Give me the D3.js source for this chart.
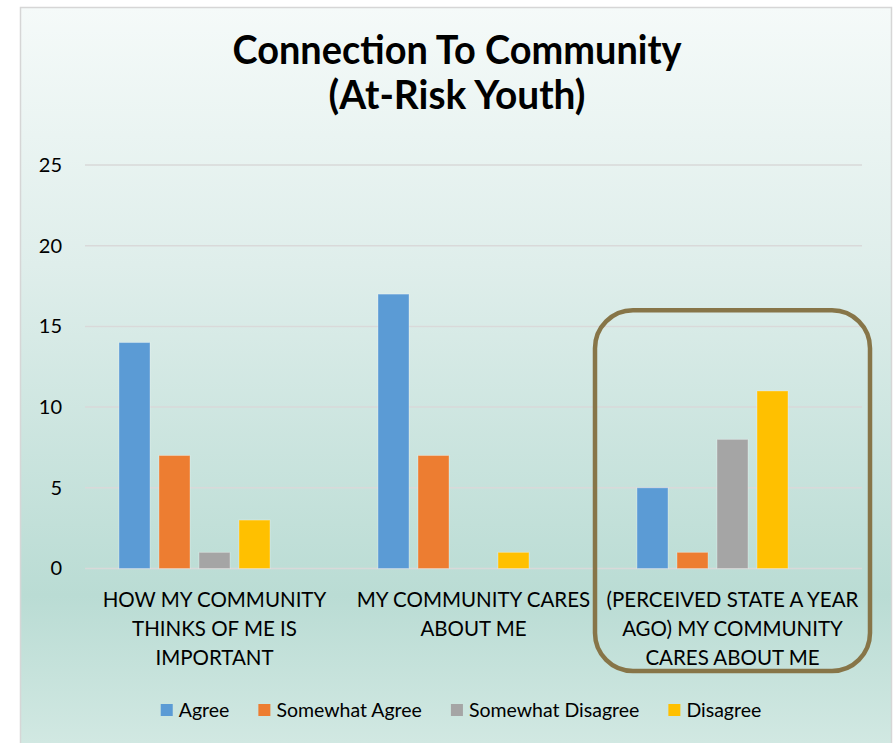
<!DOCTYPE html>
<html>
<head>
<meta charset="utf-8">
<script src="https://cdn.jsdelivr.net/npm/d3@7/dist/d3.min.js"></script>
<style>
  html, body { margin: 0; padding: 0; background: #ffffff; }
  svg { display: block; }
  text { font-family: Lato, "Open Sans", "Liberation Sans", sans-serif; }
</style>
</head>
<body>
<svg id="chart" width="895" height="743"></svg>
<script>
// Survey responses, one value per category for each answer
const categories = [
  "HOW MY COMMUNITY THINKS OF ME IS IMPORTANT",
  "MY COMMUNITY CARES ABOUT ME",
  "(PERCEIVED STATE A YEAR AGO) MY COMMUNITY CARES ABOUT ME"
];
const categoryLines = [
  ["HOW MY COMMUNITY", "THINKS OF ME IS", "IMPORTANT"],
  ["MY COMMUNITY CARES", "ABOUT ME"],
  ["(PERCEIVED STATE A YEAR", "AGO) MY COMMUNITY", "CARES ABOUT ME"]
];
const seriesNames = ["Agree", "Somewhat Agree", "Somewhat Disagree", "Disagree"];
const agree = [14, 17, 5];
const somewhatAgree = [7, 7, 1];
const somewhatDisagree = [1, 0, 8];
const disagree = [3, 1, 11];
const seriesColors = ["#5b9bd5", "#ed7d31", "#a5a5a5", "#ffc000"];
const yTicks = [0, 5, 10, 15, 20, 25];
const titleLines = ["Connection To Community", "(At-Risk Youth)"];
const highlightedCategory = categories[2];

const seriesValues = [agree, somewhatAgree, somewhatDisagree, disagree];
const svg = d3.select("#chart");

// Chart area background with a soft vertical gradient
const defs = svg.append("defs");
const grad = defs.append("linearGradient")
  .attr("id", "bg").attr("gradientUnits", "userSpaceOnUse")
  .attr("x1", 0).attr("y1", 7).attr("x2", 0).attr("y2", 743);
grad.append("stop").attr("offset", 0).attr("stop-color", "#f5faf9");
grad.append("stop").attr("offset", 0.35).attr("stop-color", "#dfeeeb");
grad.append("stop").attr("offset", 0.8).attr("stop-color", "#badcd4");
grad.append("stop").attr("offset", 1).attr("stop-color", "#d1e8e2");

svg.append("rect")
  .attr("x", 20.5).attr("y", 7.5).attr("width", 871).attr("height", 760)
  .attr("fill", "url(#bg)").attr("stroke", "#d6d6d6").attr("stroke-width", 1.5);

// Title (tall, condensed lettering)
svg.append("g").selectAll("text").data(titleLines).join("text")
  .attr("x", 457).attr("y", (d, i) => 64 + i * 45)
  .attr("text-anchor", "middle")
  .attr("font-weight", "bold").attr("font-size", 41)
  .attr("textLength", (d, i) => i === 0 ? 449 : 257)
  .attr("lengthAdjust", "spacingAndGlyphs")
  .attr("fill", "#000")
  .text(d => d);

// Scales
const plotLeft = 85, plotRight = 862;
const x0 = d3.scaleBand().domain(categories).range([plotLeft, plotRight]).padding(0);
// five slots per group; the last one carries no series
const slots = seriesNames.concat(["_spare"]);
const x1 = d3.scaleBand().domain(slots).range([0, x0.bandwidth()])
  .paddingInner(0.225).paddingOuter(0.85);
const y = d3.scaleLinear().domain([0, 25]).range([568.5, 165]);

// Gridlines
svg.append("g").selectAll("line").data(yTicks).join("line")
  .attr("x1", plotLeft).attr("x2", plotRight)
  .attr("y1", d => y(d)).attr("y2", d => y(d))
  .attr("stroke", "#d9d9d9").attr("stroke-width", 1.5);

// Value axis labels
const yAxis = d3.axisLeft(y).tickValues(yTicks).tickSize(0).tickPadding(0);
const yg = svg.append("g").attr("transform", "translate(62,0)").call(yAxis);
yg.select(".domain").remove();
yg.selectAll("text").attr("font-size", 20).attr("fill", "#000")
  .attr("font-family", "Lato, 'Open Sans', sans-serif");

// Bars
const groups = svg.append("g").selectAll("g").data(categories).join("g")
  .attr("transform", d => `translate(${x0(d)},0)`);
groups.selectAll("rect")
  .data((c, ci) => seriesNames.map((s, si) => ({ s, si, v: seriesValues[si][ci] })))
  .join("rect")
  .attr("x", d => x1(d.s))
  .attr("width", x1.bandwidth())
  .attr("y", d => y(d.v))
  .attr("height", d => y(0) - y(d.v))
  .attr("fill", d => seriesColors[d.si])
  .attr("stroke", "rgba(255,255,255,0.3)").attr("stroke-width", 1)
  .attr("display", d => d.v > 0 ? null : "none");

// Category labels
const catG = svg.append("g").selectAll("text").data(categories).join("text")
  .attr("text-anchor", "middle")
  .attr("font-size", 20.5).attr("fill", "#000");
catG.each(function (c, ci) {
  d3.select(this).selectAll("tspan").data(categoryLines[ci]).join("tspan")
    .attr("x", x0(c) + x0.bandwidth() / 2)
    .attr("y", (d, i) => 607 + i * 29)
    .text(d => d);
});

// Rounded frame around the third category
svg.append("rect")
  .attr("x", x0(highlightedCategory) - 8)
  .attr("y", y(16))
  .attr("width", x0.bandwidth() + 16)
  .attr("height", 671 - y(16))
  .attr("rx", 38).attr("ry", 38)
  .attr("fill", "none").attr("stroke", "#877548").attr("stroke-width", 4.5);

// Legend
const legend = svg.append("g");
const items = legend.selectAll("g").data(seriesNames).join("g");
items.append("rect").attr("width", 12).attr("height", 12).attr("y", -6)
  .attr("fill", (d, i) => seriesColors[i]);
items.append("text").attr("x", 18).attr("y", 7)
  .attr("font-size", 19.5).attr("fill", "#000").text(d => d);
let cursor = 0;
items.each(function () {
  const w = this.getBBox().width;
  d3.select(this).attr("transform", `translate(${cursor},710)`);
  cursor += w + 29;
});
const total = cursor - 29;
legend.attr("transform", `translate(${461 - total / 2},0)`);
</script>
</body>
</html>
